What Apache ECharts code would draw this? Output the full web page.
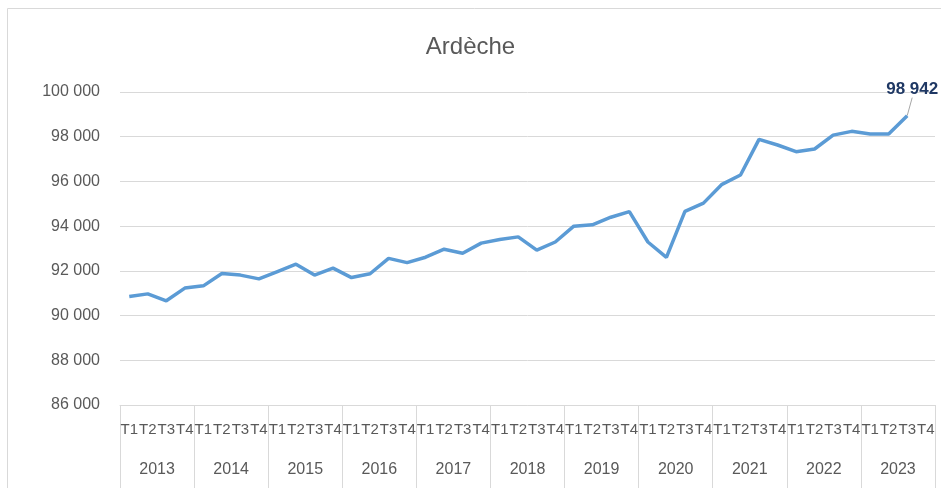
<!DOCTYPE html>
<html lang="fr">
<head>
    <meta charset="UTF-8">
    <script src="https://cdn.jsdelivr.net/npm/echarts@6/dist/echarts.min.js"></script>
    <title>Ardèche</title>
    <style>
        html, body { margin: 0; padding: 0; background: #fff; }
    </style>
</head>
<body>
<div id="main" style="width: 941px;height:488px;"></div>

<script>
    // données
    var years = ['2013', '2014', '2015', '2016', '2017', '2018', '2019', '2020', '2021', '2022', '2023'];
    var quarters = ['T1', 'T2', 'T3', 'T4'];
    var values = [
        90850, 90970, 90660, 91230,
        91330, 91880, 91810, 91640,
        91970, 92300, 91810, 92120,
        91700, 91870, 92560, 92370,
        92610, 92970, 92790, 93240,
        93400, 93520, 92930, 93290,
        94000, 94060, 94400, 94650,
        93290, 92600, 94660, 95030,
        95870, 96290, 97880, 97630,
        97330, 97450, 98070, 98240,
        98120, 98120, 98942
    ];

    var categories = [];
    years.forEach(function (y) {
        quarters.forEach(function (q) { categories.push(q); });
    });

    function fmt(v) {
        return String(v).replace(/\B(?=(\d{3})+(?!\d))/g, ' ');
    }

    var seriesData = values.map(function (v, i) {
        if (i === values.length - 1) {
            return {
                value: v,
                symbol: 'circle',
                symbolSize: 0.1,
                label: {
                    show: true,
                    position: 'top',
                    formatter: function (p) { return fmt(p.value); },
                    fontFamily: 'Liberation Sans',
                    fontWeight: 'bold',
                    fontSize: 17,
                    color: '#1f3864'
                },
                labelLine: { show: true, lineStyle: { color: '#a6a6a6', width: 1 } }
            };
        }
        return { value: v, symbol: 'none' };
    });

    var chartDom = document.getElementById('main');
    var myChart = echarts.init(chartDom);
    var option = {
        animation: false,
        textStyle: { fontFamily: 'Liberation Sans' },
        title: {
            text: 'Ardèche',
            left: 'center',
            top: 30,
            textStyle: { fontSize: 24, fontWeight: 'normal', color: '#595959', fontFamily: 'Liberation Sans' }
        },
        graphic: [{
            type: 'rect',
            shape: { x: 7.5, y: 8.5, width: 945, height: 490 },
            style: { fill: 'none', stroke: '#d9d9d9', lineWidth: 1 },
            silent: true
        }],
        grid: { left: 120, right: 6, top: 92, bottom: 83 },
        xAxis: [
            {
                type: 'category',
                data: categories,
                boundaryGap: true,
                axisLine: { show: true, lineStyle: { color: '#d9d9d9', width: 1 } },
                axisTick: { show: false },
                axisLabel: { interval: 0, margin: 17, fontSize: 15, color: '#595959' },
                splitLine: { show: false }
            },
            {
                type: 'category',
                data: years,
                position: 'bottom',
                boundaryGap: true,
                axisLine: { show: false },
                axisTick: { show: true, interval: 0, length: 83, lineStyle: { color: '#d9d9d9', width: 1 } },
                axisLabel: { interval: 0, margin: 57, fontSize: 16, color: '#595959' },
                splitLine: { show: false }
            }
        ],
        yAxis: {
            type: 'value',
            min: 86000,
            max: 100000,
            interval: 2000,
            axisLine: { show: false },
            axisTick: { show: false },
            axisLabel: { margin: 20, fontSize: 16, color: '#595959', formatter: fmt },
            splitLine: { lineStyle: { color: '#d9d9d9', width: 1 } }
        },
        series: [
            {
                name: 'Ardèche',
                type: 'line',
                xAxisIndex: 0,
                showSymbol: true,
                symbol: 'circle',
                smooth: false,
                itemStyle: { color: '#5b9bd5' },
                lineStyle: { color: '#5b9bd5', width: 3.5 },
                labelLayout: { dx: 5, dy: -13 },
                data: seriesData
            }
        ]
    };
    myChart.setOption(option);
</script>
</body>
</html>
